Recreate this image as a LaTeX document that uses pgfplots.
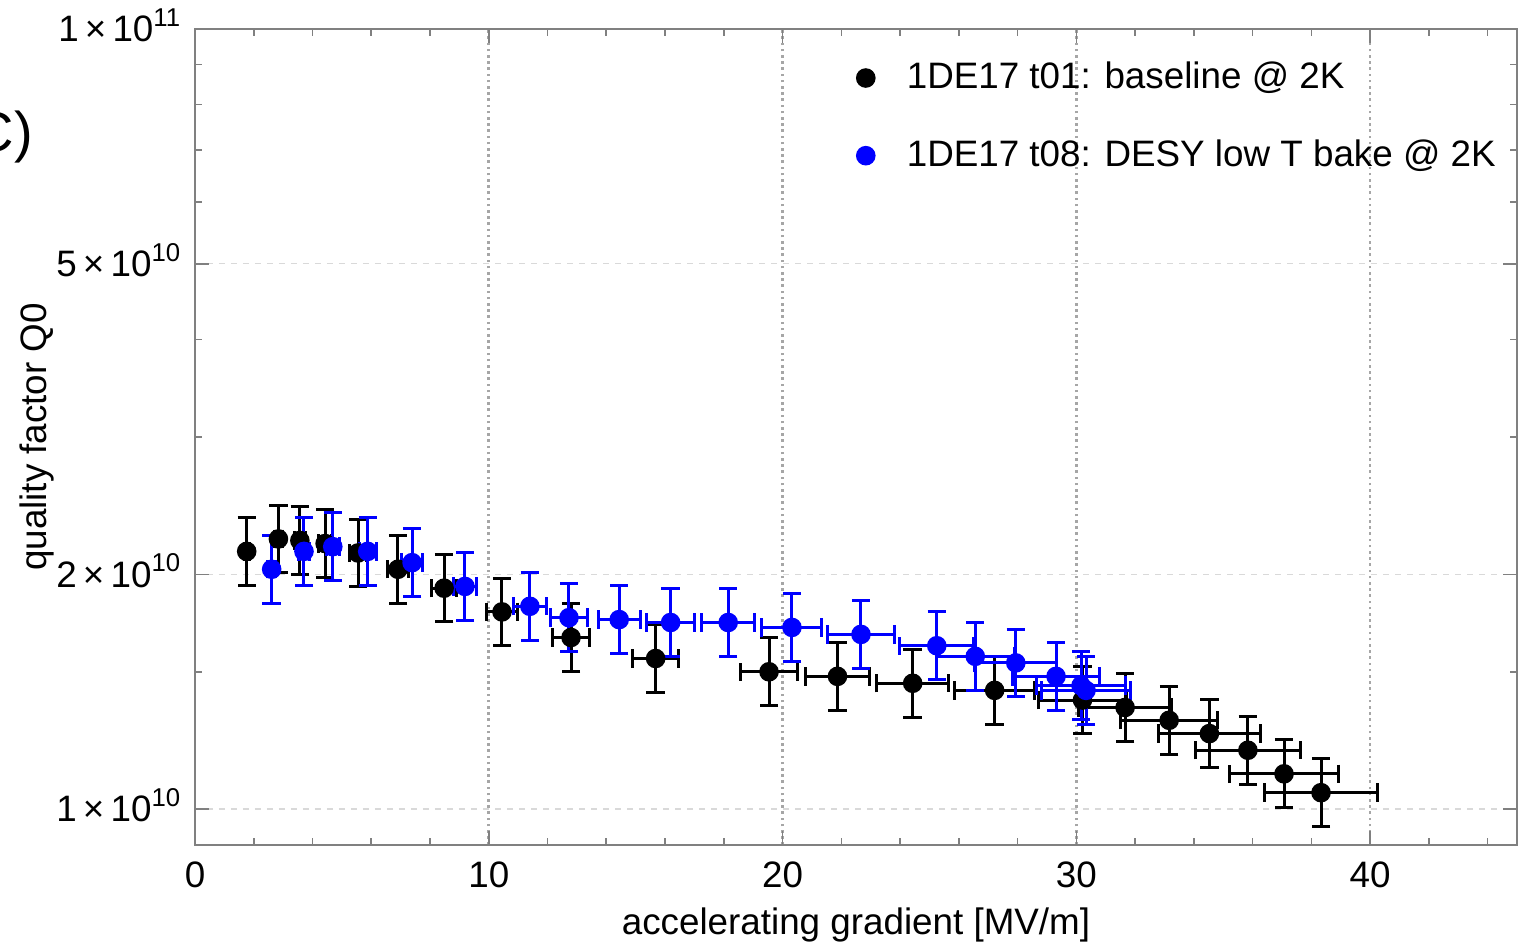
\documentclass[border=0pt]{standalone}
\usepackage{fontspec}
\setmainfont{Liberation Sans}
\usepackage{pgfplots}
\pgfplotsset{compat=1.18}
\usepackage{pgfplotstable}

\pgfplotstableread{
x     ex    y        ep         em
1.76  0.09  2.14e10  0.2247e10  0.2033e10
2.84  0.14  2.22e10  0.2331e10  0.2109e10
3.57  0.18  2.21e10  0.2321e10  0.2100e10
4.43  0.22  2.19e10  0.2300e10  0.2081e10
5.55  0.28  2.13e10  0.2237e10  0.2024e10
6.91  0.35  2.03e10  0.2132e10  0.1929e10
8.48  0.42  1.92e10  0.2016e10  0.1824e10
10.45 0.52  1.79e10  0.1880e10  0.1701e10
12.80 0.64  1.66e10  0.1743e10  0.1577e10
15.68 0.78  1.56e10  0.1638e10  0.1482e10
19.54 0.98  1.50e10  0.1575e10  0.1425e10
21.87 1.09  1.48e10  0.1554e10  0.1406e10
24.43 1.22  1.45e10  0.1523e10  0.1378e10
27.22 1.36  1.42e10  0.1491e10  0.1349e10
30.21 1.51  1.38e10  0.1449e10  0.1311e10
31.66 1.58  1.35e10  0.1418e10  0.1283e10
33.16 1.66  1.30e10  0.1365e10  0.1235e10
34.53 1.73  1.25e10  0.1313e10  0.1188e10
35.84 1.79  1.19e10  0.1250e10  0.1131e10
37.07 1.85  1.11e10  0.1166e10  0.1055e10
38.33 1.92  1.05e10  0.1103e10  0.0998e10
}\baseline

\pgfplotstableread{
x     ex    y        ep         em
2.61  0.13  2.03e10  0.2132e10  0.1929e10
3.71  0.19  2.14e10  0.2247e10  0.2033e10
4.69  0.23  2.17e10  0.2279e10  0.2062e10
5.88  0.29  2.14e10  0.2247e10  0.2033e10
7.39  0.37  2.07e10  0.2174e10  0.1967e10
9.19  0.40  1.93e10  0.2027e10  0.1834e10
11.40 0.57  1.82e10  0.1911e10  0.1729e10
12.73 0.64  1.76e10  0.1848e10  0.1672e10
14.44 0.72  1.75e10  0.1838e10  0.1663e10
16.19 0.81  1.735e10 0.1822e10  0.1648e10
18.15 0.91  1.735e10 0.1822e10  0.1648e10
20.32 1.02  1.71e10  0.1796e10  0.1625e10
22.67 1.13  1.675e10 0.1759e10  0.1591e10
25.25 1.26  1.62e10  0.1701e10  0.1539e10
26.56 1.33  1.57e10  0.1649e10  0.1492e10
27.94 1.40  1.54e10  0.1617e10  0.1463e10
29.31 1.47  1.48e10  0.1554e10  0.1406e10
30.16 1.51  1.44e10  0.1512e10  0.1368e10
30.33 1.52  1.42e10  0.1491e10  0.1349e10
}\lowtbake

\begin{document}
\begin{tikzpicture}[font=\fontsize{9.2}{11}\selectfont]
\useasboundingbox (-48.75pt,-24.75pt) rectangle (334.25pt,211.25pt);
\begin{axis}[
  at={(0pt,0pt)}, anchor=south west,
  scale only axis,
  width=330.5pt, height=204pt,
  xmin=0, xmax=45,
  ymode=log, log basis y=10,
  ymin=9e9, ymax=1e11,
  axis line style={draw=black!50, line width=0.5pt},
  tick style={draw=black!50, line width=0.4pt},
  tick align=inside,
  major tick length=3.5pt,
  minor tick length=1.75pt,
  xtick={0,10,20,30,40},
  xticklabels={0,10,20,30,40},
  minor xtick={2,4,6,8,12,14,16,18,22,24,26,28,32,34,36,38,42,44},
  ytick={1e10,2e10,5e10,1e11},
  yticklabels={1\,×\,10\textsuperscript{10},2\,×\,10\textsuperscript{10},5\,×\,10\textsuperscript{10},1\,×\,10\textsuperscript{11}},
  minor ytick={1.5e10,3e10,4e10,6e10,7e10,8e10,9e10},
  xticklabel style={anchor=base, inner sep=0pt, yshift=-10.75pt},
  yticklabel style={anchor=base east, inner sep=0pt, xshift=-3pt, yshift=-3.2pt},
  xmajorgrids, ymajorgrids,
  x grid style={draw=black!35, line width=0.65pt, dash pattern=on 0.65pt off 0.9pt},
  y grid style={draw=black!15, line width=0.35pt, dash pattern=on 1.5pt off 1.5pt},
  xlabel={accelerating gradient [MV/m]},
  ylabel={quality factor Q0},
  every axis x label/.style={at={(axis description cs:0.5,-0.110)}, anchor=base},
  every axis y label/.style={at={(axis description cs:-0.1195,0.5)}, rotate=90, anchor=center},
  legend style={draw=none, fill=none, inner sep=0pt, at={(axis description cs:0.5,0.9706)}, anchor=north west, row sep=7.25pt, column sep=6pt, font=\fontsize{9.2}{11}\selectfont},
  legend cell align=left,
  clip=false,
]
\addplot[only marks, mark=*, mark size=2.25pt, draw=black, fill=black,
  error bars/.cd, x dir=both, x explicit, y dir=both, y explicit,
  error bar style={line width=0.75pt, black},
  error mark options={rotate=90, line width=0.75pt, mark size=2.3pt, black}]
  table[x=x, y=y, x error=ex, y error plus=ep, y error minus=em] {\baseline};
\addplot[only marks, mark=*, mark size=2.25pt, draw=blue, fill=blue,
  error bars/.cd, x dir=both, x explicit, y dir=both, y explicit,
  error bar style={line width=0.75pt, blue},
  error mark options={rotate=90, line width=0.75pt, mark size=2.3pt, blue}]
  table[x=x, y=y, x error=ex, y error plus=ep, y error minus=em] {\lowtbake};
\legend{1DE17 t01: baseline @ 2K, 1DE17 t08: DESY low T bake @ 2K}
\end{axis}
\node[anchor=east, font=\fontsize{14}{16}\selectfont] at (-37pt,177pt) {C)};
\end{tikzpicture}
\end{document}
